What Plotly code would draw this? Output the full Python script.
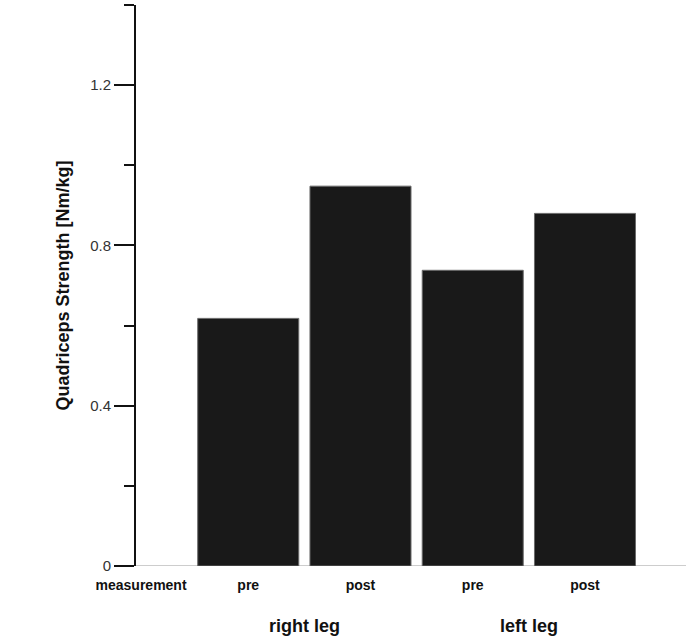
import plotly.graph_objects as go

categories = ["measurement", "pre", "post", "pre", "post"]
values = [None, 0.618, 0.948, 0.738, 0.880]
groups = ["right leg", "left leg"]
group_pos = [1.5, 3.5]
y_ticks = [0, 0.4, 0.8, 1.2]
y_ticklabels = ["0", "0.4", "0.8", "1.2"]

xs = list(range(len(categories)))
label_pos = [0.045] + xs[1:]

fig = go.Figure()
fig.add_trace(go.Bar(
    x=xs, y=values,
    marker=dict(color="#191919", line=dict(color="#6a6a6a", width=1)),
    width=0.9,
    showlegend=False,
))

# thin baseline at zero
fig.add_shape(type="line", xref="paper", yref="y", x0=0, x1=1, y0=0, y1=0,
              line=dict(color="#9a9a9a", width=1), layer="below")

for g, p in zip(groups, group_pos):
    fig.add_annotation(text="<b>%s</b>" % g, x=p, xref="x", y=0, yref="paper",
                       yshift=-60, yanchor="middle", showarrow=False,
                       font=dict(family="Liberation Sans, Arial", size=18, color="#111"))

fig.update_layout(
    width=686, height=638,
    margin=dict(l=136, r=0, t=5, b=72),
    plot_bgcolor="white", paper_bgcolor="white",
    font=dict(family="Liberation Sans, Arial", color="#111"),
    xaxis=dict(
        range=[0, 4.9],
        tickmode="array", tickvals=label_pos,
        ticktext=["<b>%s</b>" % c for c in categories],
        tickfont=dict(size=14, color="#111"),
        showgrid=False, zeroline=False, showline=False,
        ticks="outside", ticklen=6, tickcolor="rgba(0,0,0,0)",
    ),
    yaxis=dict(
        range=[0, 1.4001],
        tickmode="array", tickvals=y_ticks, ticktext=y_ticklabels,
        tickfont=dict(size=15, color="#333"),
        ticks="outside", ticklen=20, tickwidth=2, tickcolor="#111",
        minor=dict(tickmode="array", tickvals=[0.2, 0.6, 1.0, 1.4], ticks="outside",
                   ticklen=10, tickwidth=2, tickcolor="#111", showgrid=False),
        showline=True, linecolor="#111", linewidth=2,
        showgrid=False, zeroline=False,
        title=dict(text="<b>Quadriceps Strength [Nm/kg]</b>",
                   font=dict(size=18, color="#111"), standoff=16),
    ),
    bargap=0.1,
)

fig.write_html("out.html", config={"displayModeBar": False},
               post_script="document.body.style.margin='0';")
